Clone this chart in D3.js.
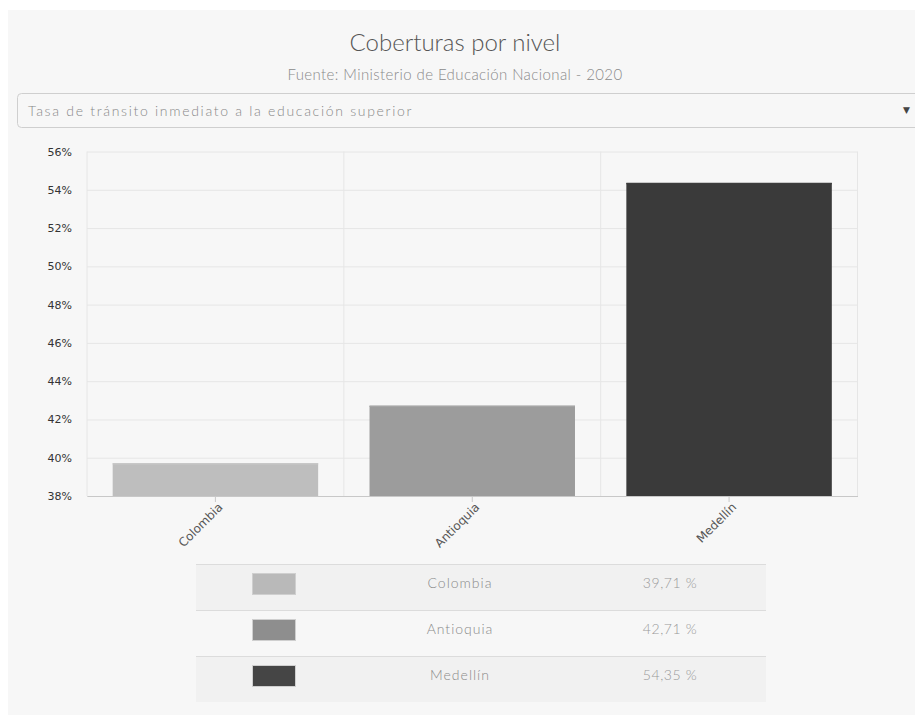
<!DOCTYPE html>
<html><head><meta charset="utf-8">
<script src="https://cdn.jsdelivr.net/npm/d3@7"></script>
<style>body{margin:0;background:#fff;overflow:hidden}</style>
</head><body><svg id="c" width="915" height="715"></svg>
<script>
const categories = ["Colombia", "Antioquia", "Medellín"];
const values = [39.71, 42.71, 54.35];
const valueLabels = ["39,71 %", "42,71 %", "54,35 %"];
const barColors = ["#bebebe", "#9c9c9c", "#3a3a3a"];
const swatchColors = ["#b9b9b9", "#8e8e8e", "#454545"];
const yTicks = [38, 40, 42, 44, 46, 48, 50, 52, 54, 56];
const title = "Coberturas por nivel";
const subtitle = "Fuente: Ministerio de Educación Nacional - 2020";
const selectorText = "Tasa de tránsito inmediato a la educación superior";

const svg = d3.select("#c");
const lightFont = "Lato, 'Open Sans', sans-serif";
const axisFont = "'DejaVu Sans', Verdana, sans-serif";

// panel
svg.append("rect").attr("x", 8).attr("y", 10).attr("width", 915).attr("height", 705).attr("fill", "#f7f7f7");

svg.append("text").attr("x", 455).attr("y", 51).attr("text-anchor", "middle")
  .attr("font-family", lightFont).attr("font-weight", 300).attr("font-size", 24).attr("fill", "#555").text(title);
svg.append("text").attr("x", 455).attr("y", 80).attr("text-anchor", "middle")
  .attr("font-family", lightFont).attr("font-weight", 300).attr("font-size", 15).attr("letter-spacing", 0.4)
  .attr("fill", "#8a8a8a").text(subtitle);

// selector
svg.append("rect").attr("x", 17.5).attr("y", 93.5).attr("width", 920).attr("height", 34).attr("rx", 4)
  .attr("fill", "#f7f7f7").attr("stroke", "#cfcfcf");
svg.append("text").attr("x", 28).attr("y", 116).attr("font-family", lightFont).attr("font-weight", 300)
  .attr("font-size", 14).attr("letter-spacing", 1.7).attr("fill", "#888").text(selectorText);
svg.append("text").attr("x", 903).attr("y", 113).attr("font-family", axisFont).attr("font-size", 9).attr("fill", "#444").text("▼");

// chart
const m = {left: 87, right: 857.5, top: 151.5, bottom: 496};
const x = d3.scaleBand().domain(categories).range([m.left, m.right]).paddingInner(0.2).paddingOuter(0.1);
const y = d3.scaleLinear().domain([38, 56]).range([m.bottom, m.top]);
const g = svg.append("g");

// horizontal grid
g.append("g").attr("transform", `translate(${m.left},0)`)
  .call(d3.axisLeft(y).tickValues(yTicks).tickSize(-(m.right - m.left)).tickFormat(d => d + "%").tickPadding(15))
  .call(s => s.select(".domain").remove())
  .call(s => s.selectAll(".tick line").attr("stroke", "#e6e6e6"))
  .call(s => s.selectAll(".tick text").attr("font-family", axisFont).attr("font-size", 11).attr("fill", "#333"));

// vertical grid at band boundaries
const step = x.step();
const vb = [m.left].concat(categories.slice(1).map(c => x(c) - (step - x.bandwidth()) / 2)).concat([m.right]);
g.selectAll(".vg").data(vb).join("line").attr("class", "vg")
  .attr("x1", d => d).attr("x2", d => d).attr("y1", m.top).attr("y2", m.bottom).attr("stroke", "#e6e6e6");

// bars
g.selectAll(".bar").data(categories).join("rect").attr("class", "bar")
  .attr("x", d => x(d)).attr("width", x.bandwidth())
  .attr("y", (d, i) => y(values[i])).attr("height", (d, i) => y(38) - y(values[i]))
  .attr("fill", (d, i) => barColors[i]);
g.selectAll(".bartop").data(categories).join("line").attr("class", "bartop")
  .attr("x1", d => x(d)).attr("x2", d => x(d) + x.bandwidth())
  .attr("y1", (d, i) => y(values[i]) + 0.5).attr("y2", (d, i) => y(values[i]) + 0.5)
  .attr("stroke", (d, i) => d3.color(barColors[i]).brighter(0.15)).attr("stroke-width", 1.5);

// x axis
const xa = g.append("g").attr("transform", `translate(0,${m.bottom})`)
  .call(d3.axisBottom(x).tickSize(6).tickSizeOuter(0));
xa.select(".domain").attr("stroke", "#c8c8c8");
xa.selectAll(".tick line").attr("stroke", "#c8c8c8");
xa.selectAll(".tick text").attr("font-family", axisFont).attr("font-size", 12).attr("fill", "#555")
  .attr("text-anchor", "end").attr("dy", "0.35em").attr("transform", "translate(5,9) rotate(-45)").attr("y", 0).attr("x", 0);

// legend table
const rows = d3.scaleBand().domain(categories).range([564, 702]);
const tx0 = 196, tx1 = 766;
const tbl = svg.append("g");
const row = tbl.selectAll(".row").data(categories).join("g").attr("class", "row")
  .attr("transform", d => `translate(0,${rows(d)})`);
row.append("rect").attr("x", tx0).attr("width", tx1 - tx0).attr("height", rows.bandwidth())
  .attr("fill", (d, i) => i % 2 === 0 ? "#f1f1f1" : "#f7f7f7");
row.append("line").attr("x1", tx0).attr("x2", tx1).attr("y1", 0.5).attr("y2", 0.5).attr("stroke", "#dcdcdc");
row.append("rect").attr("x", 252.5).attr("y", 9.5).attr("width", 43).attr("height", 21)
  .attr("fill", (d, i) => swatchColors[i]).attr("stroke", "#cfcfcf");
row.append("text").attr("x", 460).attr("y", 21).attr("dominant-baseline", "middle").attr("text-anchor", "middle")
  .attr("font-family", lightFont).attr("font-weight", 300).attr("font-size", 14).attr("letter-spacing", 1)
  .attr("fill", "#8a8a8a").text(d => d);
row.append("text").attr("x", 670).attr("y", 21).attr("dominant-baseline", "middle").attr("text-anchor", "middle")
  .attr("font-family", lightFont).attr("font-weight", 300).attr("font-size", 14).attr("letter-spacing", 0.6)
  .attr("fill", "#999").text((d, i) => valueLabels[i]);
</script></body></html>
